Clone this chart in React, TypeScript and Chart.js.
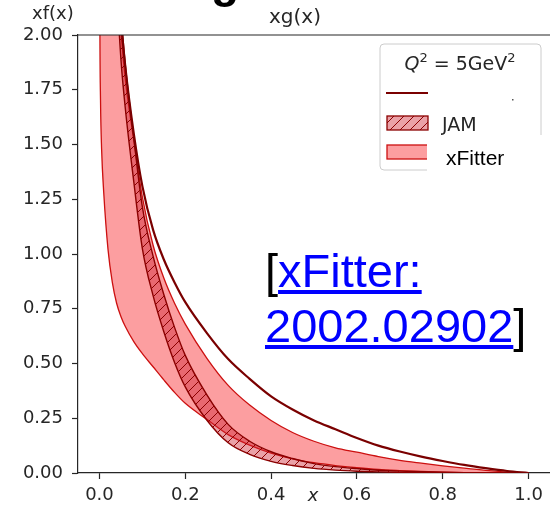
import React, { useEffect, useRef } from "react";
import { Chart, registerables } from "chart.js";
Chart.register(...registerables);

// ---- data ----
const xGrid = [0, 0.001, 0.0025, 0.005, 0.01, 0.02, 0.03, 0.04, 0.05, 0.06, 0.08, 0.1, 0.125, 0.15, 0.175, 0.2, 0.25, 0.3, 0.35, 0.4, 0.45, 0.5, 0.55, 0.6, 0.65, 0.7, 0.75, 0.8, 0.85, 0.9, 0.95, 1.0];
const darkLine = [10, 9.6, 9, 8, 6.2, 4.1, 3.05, 2.45, 2.08, 1.86, 1.55, 1.31, 1.11, 0.975, 0.87, 0.78, 0.64, 0.52, 0.43, 0.35, 0.29, 0.24, 0.2, 0.16, 0.125, 0.098, 0.075, 0.055, 0.037, 0.022, 0.009, 0];
const jamUpper = [9.2, 8.8, 8.2, 7.2, 5.8, 4.05, 3.08, 2.47, 2.11, 1.87, 1.53, 1.215, 0.99, 0.815, 0.665, 0.537, 0.358, 0.222, 0.145, 0.097, 0.066, 0.043, 0.029, 0.02, 0.0125, 0.0085, 0.0055, 0.0032, 0.0016, 0.0007, 0.0002, 0];
const jamLower = [8.2, 7.8, 7.2, 6.3, 5.0, 3.5, 2.65, 2.23, 1.89, 1.67, 1.33, 1.025, 0.81, 0.645, 0.505, 0.393, 0.242, 0.138, 0.085, 0.053, 0.034, 0.021, 0.013, 0.008, 0.005, 0.003, 0.0017, 0.0009, 0.0004, 0.0002, 0.0001, 0];
const xfUpper = [10, 9.4, 8.6, 7.5, 5.8, 3.9, 2.95, 2.36, 2.02, 1.8, 1.52, 1.26, 1.04, 0.89, 0.775, 0.68, 0.525, 0.4, 0.31, 0.24, 0.185, 0.145, 0.115, 0.095, 0.075, 0.058, 0.045, 0.033, 0.022, 0.012, 0.004, 0];
const xfLower = [3.0, 2.05, 1.7, 1.48, 1.28, 1.02, 0.87, 0.775, 0.715, 0.67, 0.6, 0.545, 0.485, 0.425, 0.368, 0.318, 0.245, 0.175, 0.127, 0.091, 0.065, 0.047, 0.034, 0.024, 0.016, 0.011, 0.007, 0.004, 0.002, 0.001, 0.0003, 0];
const xTicks = [0, 0.2, 0.4, 0.6, 0.8, 1.0];
const yTicks = [0, 0.25, 0.5, 0.75, 1.0, 1.25, 1.5, 1.75, 2.0];
const legendLabels = ["JAM", "xFitter"];

const DARK = "#7a0000";
const JAMEDGE = "#8b0000";
const XFEDGE = "#cc1010";
const XFFILL = "rgb(252,158,160)";
const TXT = "#262626";

function makeHatch(): CanvasPattern | string {
  const c = document.createElement("canvas");
  c.width = 10;
  c.height = 10;
  const g = c.getContext("2d");
  if (!g) return "rgba(205,30,45,0.42)";
  g.fillStyle = "rgba(205,30,45,0.42)";
  g.fillRect(0, 0, 10, 10);
  g.strokeStyle = JAMEDGE;
  g.lineWidth = 1;
  g.beginPath();
  g.moveTo(0, 10);
  g.lineTo(10, 0);
  g.moveTo(-1, 1);
  g.lineTo(1, -1);
  g.moveTo(9, 11);
  g.lineTo(11, 9);
  g.stroke();
  return g.createPattern(c, "repeat") || "rgba(205,30,45,0.42)";
}

export default function App() {
  const ref = useRef<HTMLCanvasElement | null>(null);
  useEffect(() => {
    if (!ref.current) return;
    const hatch = makeHatch();
    const pts = (ys: number[]) => xGrid.map((x, i) => ({ x, y: ys[i] }));
    const common = { pointRadius: 0, cubicInterpolationMode: "monotone" as const };

    const decor = {
      id: "decor",
      afterDraw(chart: any) {
        const ctx = chart.ctx as CanvasRenderingContext2D;
        const a = chart.chartArea;
        ctx.save();
        // top spine
        ctx.strokeStyle = TXT;
        ctx.lineWidth = 1.2;
        ctx.beginPath();
        ctx.moveTo(a.left, a.top);
        ctx.lineTo(a.right, a.top);
        ctx.stroke();
        // x axis label
        ctx.fillStyle = TXT;
        ctx.font = "italic 18px 'DejaVu Sans'";
        ctx.textAlign = "center";
        ctx.textBaseline = "alphabetic";
        ctx.fillText("x", 313, 501);

        // legend frame
        ctx.beginPath();
        const lx = 380, ly = 44, lw = 161, lh = 126, r = 4;
        ctx.moveTo(lx + r, ly);
        ctx.arcTo(lx + lw, ly, lx + lw, ly + lh, r);
        ctx.arcTo(lx + lw, ly + lh, lx, ly + lh, r);
        ctx.arcTo(lx, ly + lh, lx, ly, r);
        ctx.arcTo(lx, ly, lx + lw, ly, r);
        ctx.closePath();
        ctx.fillStyle = "rgba(255,255,255,0.85)";
        ctx.fill();
        ctx.strokeStyle = "#cccccc";
        ctx.lineWidth = 1;
        ctx.stroke();

        // legend title  Q^2 = 5GeV^2
        const base = 70;
        const parts: [string, string, number][] = [
          ["Q", "italic 19px 'DejaVu Sans'", 0],
          ["2", "13px 'DejaVu Sans'", -8],
          [" = 5GeV", "19px 'DejaVu Sans'", 0],
          ["2", "13px 'DejaVu Sans'", -8],
        ];
        let total = 0;
        const widths: number[] = [];
        for (const p of parts) {
          ctx.font = p[1];
          const w = ctx.measureText(p[0]).width;
          widths.push(w);
          total += w;
        }
        let cx = 460 - total / 2;
        ctx.textAlign = "left";
        ctx.fillStyle = TXT;
        parts.forEach((p, i) => {
          ctx.font = p[1];
          ctx.fillText(p[0], cx, base + p[2]);
          cx += widths[i];
        });

        // line handle
        ctx.strokeStyle = DARK;
        ctx.lineWidth = 2.2;
        ctx.beginPath();
        ctx.moveTo(386, 93);
        ctx.lineTo(428, 93);
        ctx.stroke();
        // white cover of first label
        ctx.fillStyle = "#ffffff";
        ctx.fillRect(438, 85, 75, 19);
        ctx.fillStyle = "#555";
        ctx.fillRect(512, 99, 1.5, 1.5);

        // JAM handle
        ctx.fillStyle = "#ffffff";
        ctx.fillRect(387, 116, 41, 14);
        ctx.fillStyle = hatch as any;
        ctx.fillRect(387, 116, 41, 14);
        ctx.strokeStyle = JAMEDGE;
        ctx.lineWidth = 1.3;
        ctx.strokeRect(387, 116, 41, 14);
        ctx.fillStyle = TXT;
        ctx.font = "19px 'DejaVu Sans'";
        ctx.textBaseline = "alphabetic";
        ctx.fillText(legendLabels[0], 442, 131);

        // xFitter handle
        ctx.fillStyle = XFFILL;
        ctx.fillRect(387, 145, 41, 14);
        ctx.strokeStyle = XFEDGE;
        ctx.strokeRect(387, 145, 41, 14);
        // white patch with pasted label
        ctx.fillStyle = "#ffffff";
        ctx.fillRect(427, 135, 115, 45);
        ctx.fillStyle = "#000";
        ctx.font = "21px 'Liberation Sans'";
        ctx.fillText(legendLabels[1], 446, 165);
        ctx.restore();
      },
    };

    const chart = new Chart(ref.current, {
      type: "line",
      data: {
        datasets: [
          { label: "central", data: pts(darkLine), borderColor: DARK, borderWidth: 2.2, fill: false, order: 0, ...common },
          { label: "JAM upper", data: pts(jamUpper), borderColor: JAMEDGE, borderWidth: 1.4, fill: false, order: 1, ...common },
          { label: "JAM", data: pts(jamLower), borderColor: JAMEDGE, borderWidth: 1.4, fill: 1, backgroundColor: hatch as any, order: 1, ...common },
          { label: "xFitter upper", data: pts(xfUpper), borderColor: XFEDGE, borderWidth: 1.3, fill: false, order: 2, ...common },
          { label: "xFitter", data: pts(xfLower), borderColor: XFEDGE, borderWidth: 1.3, fill: 3, backgroundColor: XFFILL, order: 2, ...common },
        ],
      },
      options: {
        animation: false,
        responsive: true,
        maintainAspectRatio: false,
        layout: { padding: { top: 35, right: 0, left: 0, bottom: 0 } },
        plugins: { legend: { display: false }, tooltip: { enabled: false } },
        scales: {
          x: {
            type: "linear",
            min: -0.05,
            max: 1.05,
            afterBuildTicks: (s: any) => {
              s.ticks = xTicks.map((v) => ({ value: v }));
            },
            afterFit: (s: any) => {
              s.height = 34;
            },
            ticks: {
              callback: (v: any) => Number(v).toFixed(1),
              font: { family: "'DejaVu Sans'", size: 18 },
              color: TXT,
              padding: 6,
              maxRotation: 0,
              autoSkip: false,
            },
            grid: { drawOnChartArea: false, tickLength: 6, tickColor: TXT, tickWidth: 1.2 },
            border: { color: TXT, width: 1.2 },
          },
          y: {
            type: "linear",
            min: 0,
            max: 2,
            afterBuildTicks: (s: any) => {
              s.ticks = yTicks.map((v) => ({ value: v }));
            },
            afterFit: (s: any) => {
              s.width = 78;
            },
            ticks: {
              callback: (v: any) => Number(v).toFixed(2),
              font: { family: "'DejaVu Sans'", size: 18 },
              color: TXT,
              padding: 9,
              autoSkip: false,
            },
            grid: { drawOnChartArea: false, tickLength: 6, tickColor: TXT, tickWidth: 1.2 },
            border: { color: TXT, width: 1.2 },
          },
        },
      },
      plugins: [decor],
    } as any);
    return () => chart.destroy();
  }, []);

  return (
    <div style={{ position: "absolute", left: 0, top: 0, width: 550, height: 507, overflow: "hidden", background: "#fff" }}>
      <canvas ref={ref} />
      <div style={{ position: "absolute", left: 211, top: -42, font: "bold 46px 'Liberation Sans'", lineHeight: "46px", color: "#000" }}>g</div>
      <div style={{ position: "absolute", left: 32, top: 2, font: "18px 'DejaVu Sans'", lineHeight: "22px", color: TXT }}>xf(x)</div>
      <div style={{ position: "absolute", left: 269, top: 4, font: "20px 'DejaVu Sans'", lineHeight: "24px", color: TXT }}>xg(x)</div>
      <div style={{ position: "absolute", left: 265, top: 247, font: "47px 'Liberation Sans'", lineHeight: "47px", color: "#000", whiteSpace: "nowrap" }}>
        [<span style={{ color: "#0000ff", textDecoration: "underline" }}>xFitter:</span>
      </div>
      <div style={{ position: "absolute", left: 265, top: 302, font: "47px 'Liberation Sans'", lineHeight: "47px", color: "#000", whiteSpace: "nowrap" }}>
        <span style={{ color: "#0000ff", textDecoration: "underline" }}>2002.02902</span>]
      </div>
    </div>
  );
}
